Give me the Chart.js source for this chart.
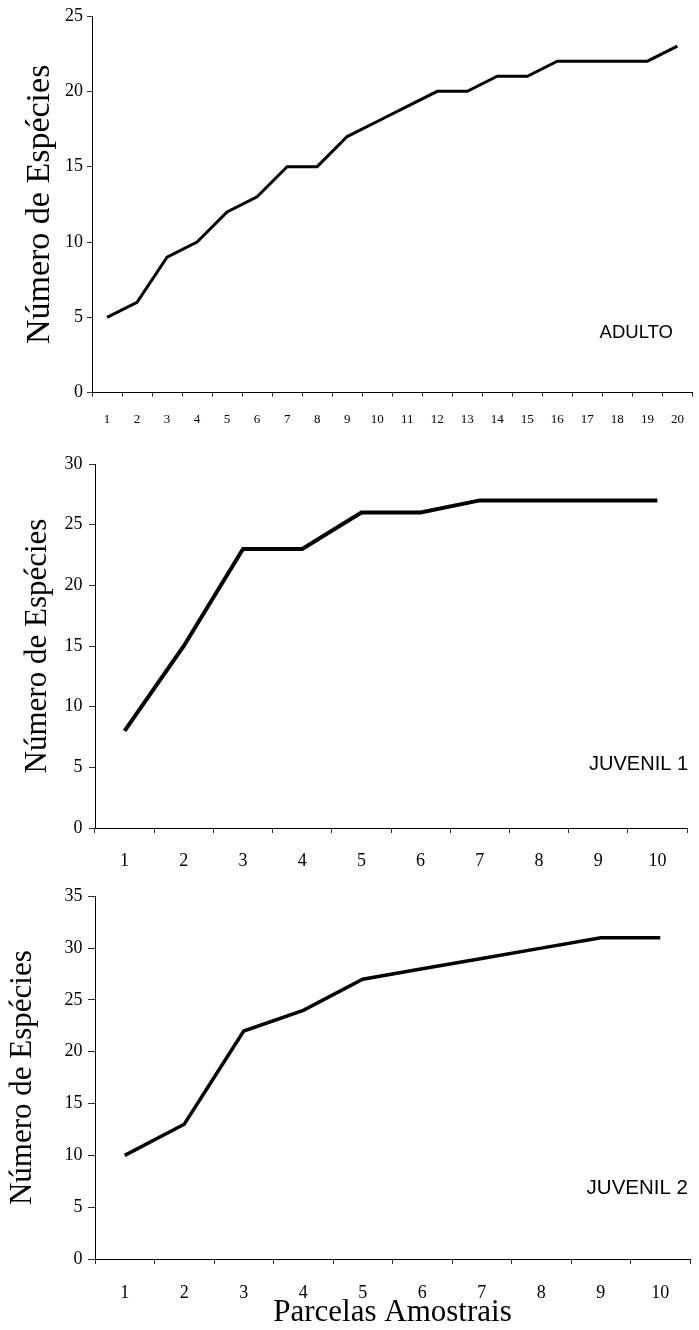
<!DOCTYPE html>
<html>
<head>
<meta charset="utf-8">
<script src="https://cdn.jsdelivr.net/npm/chart.js@4.4.1/dist/chart.umd.min.js"></script>
<style>
  html, body { margin: 0; padding: 0; background: #fff; }
  body { width: 699px; height: 1330px; position: relative; overflow: hidden; }
  canvas { position: absolute; left: 0; display: block; }
  #chart1 { top: 0; }
  #chart2 { top: 440px; }
  #chart3 { top: 880px; }
</style>
</head>
<body>
<canvas id="chart1" width="699" height="440"></canvas>
<canvas id="chart2" width="699" height="440"></canvas>
<canvas id="chart3" width="699" height="450"></canvas>
<script>
// Parcelas amostrais (x) e número acumulado de espécies (y)
const adultoParcelas = ["1", "2", "3", "4", "5", "6", "7", "8", "9", "10", "11", "12", "13", "14", "15", "16", "17", "18", "19", "20"];
const adultoEspecies = [5, 6, 9, 10, 12, 13, 15, 15, 17, 18, 19, 20, 20, 21, 21, 22, 22, 22, 22, 23];

const juvenil1Parcelas = ["1", "2", "3", "4", "5", "6", "7", "8", "9", "10"];
const juvenil1Especies = [8, 15, 23, 23, 26, 26, 27, 27, 27, 27];

const juvenil2Parcelas = ["1", "2", "3", "4", "5", "6", "7", "8", "9", "10"];
const juvenil2Especies = [10, 13, 22, 24, 27, 28, 29, 30, 31, 31];

const yMaxes = [25, 30, 35];
const yTitle = "Número de Espécies";
const xTitle = "Parcelas Amostrais";

const serif = "'Liberation Serif', 'Times New Roman', serif";
const sans = "'Liberation Sans', Arial, sans-serif";

// draws the group name (ADULTO, JUVENIL...) in the lower right of the plot
const cornerLabel = {
  id: "cornerLabel",
  afterDraw(chart, args, opts) {
    const { ctx, chartArea } = chart;
    ctx.save();
    ctx.font = opts.font;
    ctx.fillStyle = "#000";
    ctx.textAlign = "right";
    ctx.textBaseline = "middle";
    ctx.fillText(opts.text, chartArea.right + opts.dx, chartArea.bottom - opts.dy);
    ctx.restore();
  },
};

function makeChart(id, cfg) {
  return new Chart(document.getElementById(id), {
    type: "line",
    data: {
      labels: cfg.labels,
      datasets: [
        {
          data: cfg.values,
          borderColor: "#000",
          borderWidth: cfg.lineWidth,
          pointRadius: 0,
          tension: 0,
          fill: false,
        },
      ],
    },
    options: {
      responsive: false,
      animation: false,
      layout: { padding: cfg.padding },
      plugins: {
        legend: { display: false },
        tooltip: { enabled: false },
        cornerLabel: cfg.corner,
      },
      scales: {
        x: {
          offset: true,
          grid: {
            offset: true,
            drawOnChartArea: false,
            tickLength: cfg.xTick,
            tickColor: "#333",
          },
          border: { color: "#000", width: 1 },
          ticks: {
            color: "#000",
            font: { family: serif, size: cfg.xFont },
            padding: cfg.xPad,
            maxRotation: 0,
            autoSkip: false,
          },
          title: cfg.xTitle
            ? {
                display: true,
                text: xTitle,
                color: "#000",
                font: { family: serif, size: 31, lineHeight: 1.1 },
                padding: { top: 0, bottom: 0 },
              }
            : { display: false },
          afterFit(scale) {
            scale.height = cfg.xHeight;
          },
        },
        y: {
          min: 0,
          max: cfg.max,
          ticks: {
            stepSize: 5,
            color: "#000",
            font: { family: serif, size: 18 },
            padding: cfg.yPad,
          },
          grid: {
            drawOnChartArea: false,
            tickLength: cfg.yTick,
            tickColor: "#333",
          },
          border: { color: "#000", width: 1 },
          title: {
            display: true,
            text: yTitle,
            color: "#000",
            font: { family: serif, size: cfg.titleSize, lineHeight: 1.2 },
            padding: { top: cfg.titlePad, bottom: 0 },
          },
          afterFit(scale) {
            scale.width = cfg.yWidth;
          },
        },
      },
    },
    plugins: [cornerLabel],
  });
}

makeChart("chart1", {
  labels: adultoParcelas,
  values: adultoEspecies,
  max: yMaxes[0],
  lineWidth: 3,
  padding: { top: 16, right: 3.5, bottom: 0, left: 0 },
  xTick: 4,
  xFont: 13,
  xPad: 15,
  xHeight: 47.3,
  yTick: 5,
  yPad: 4,
  yWidth: 92,
  titleSize: 34,
  titlePad: 20,
  corner: { text: "ADULTO", font: "18.5px " + sans, dx: -19.5, dy: 60 },
});

makeChart("chart2", {
  labels: juvenil1Parcelas,
  values: juvenil1Especies,
  max: yMaxes[1],
  lineWidth: 4,
  padding: { top: 24, right: 12, bottom: 0, left: 0 },
  xTick: 5,
  xFont: 18,
  xPad: 17.5,
  xHeight: 52,
  yTick: 6,
  yPad: 6.5,
  yWidth: 95,
  titleSize: 31,
  titlePad: 19.4,
  corner: { text: "JUVENIL 1", font: "20px " + sans, dx: 1, dy: 64 },
});

makeChart("chart3", {
  labels: juvenil2Parcelas,
  values: juvenil2Especies,
  max: yMaxes[2],
  lineWidth: 3.5,
  padding: { top: 16, right: 9, bottom: 0, left: 0 },
  xTick: 5,
  xFont: 18,
  xPad: 18,
  xHeight: 71,
  xTitle: true,
  yTick: 7,
  yPad: 5.5,
  yWidth: 95,
  titleSize: 31,
  titlePad: 4.5,
  corner: { text: "JUVENIL 2", font: "20.5px " + sans, dx: -2, dy: 71 },
});
</script>
</body>
</html>
